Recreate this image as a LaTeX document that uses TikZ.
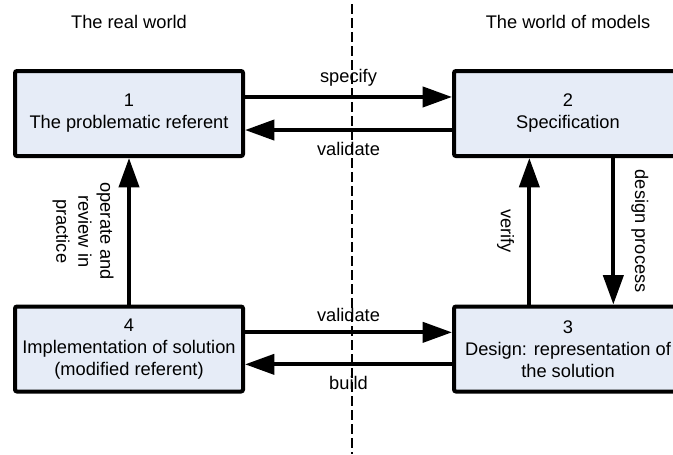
\documentclass[tikz,border=0pt]{standalone}
\usepackage{fontspec}
\setmainfont{Liberation Sans}
\usetikzlibrary{arrows.meta}
\definecolor{boxfill}{RGB}{230,236,247}

\begin{document}
\begin{tikzpicture}[x=0.75pt,y=-0.75pt,
  every node/.style={font=\fontsize{13.7pt}{16.5pt}\selectfont},
  stage/.style={draw,line width=3pt,fill=boxfill,rounded corners=1.5pt,
    minimum width=171pt,minimum height=63.75pt,align=center,inner sep=0pt},
  flow/.style={line width=3pt,-{Triangle[length=22pt,width=15pt]}},
  sidelabel/.style={midway,rotate=-90,align=center,inner sep=10pt},
  divider/.style={dashed,line width=0.8pt,dash pattern=on 7.5pt off 3pt}]

  \useasboundingbox (0,0) rectangle (673,454);

  \node (realw) at (129,22) {The real world};
  \node (modelw) at (568,22) {The world of models};

  \node[stage] (b1) at (129,113.5) {1\\The problematic referent};
  \node[stage] (b2) at (568,113.5) {2\\Specification};
  \node[stage] (b3) at (568,349) {3\\Design: representation of\\the solution};
  \node[stage] (b4) at (129,349) {4\\Implementation of solution\\(modified referent)};

  % top pair
  \draw[flow] ([yshift=12.4pt] b1.east) -- ([yshift=12.4pt] b2.west)
    node[midway,above=3pt] {specify};
  \draw[flow] ([yshift=-12.4pt] b2.west) -- ([yshift=-12.4pt] b1.east)
    node[midway,below=4pt] {validate};

  % bottom pair
  \draw[flow] ([yshift=12.5pt] b4.east) -- ([yshift=12.5pt] b3.west)
    node[midway,above=3pt] {validate};
  \draw[flow] ([yshift=-11.5pt] b3.west) -- ([yshift=-11.5pt] b4.east)
    node[midway,below=4pt] {build};

  % verticals
  \draw[flow] (b4.north) -- (b1.south)
    node[sidelabel,anchor=north] {operate and\\review in\\practice};
  \draw[flow] ([xshift=-29pt] b3.north) -- ([xshift=-29pt] b2.south)
    node[sidelabel,anchor=north] {verify};
  \draw[flow] ([xshift=34pt] b2.south) -- ([xshift=34pt] b3.north)
    node[sidelabel,anchor=south,inner sep=12pt] {design process};

  \coordinate (divtop) at (352,4);
  \coordinate (divbot) at (352,454);
  \draw[divider] (divtop) -- (divbot);

\end{tikzpicture}
\end{document}
